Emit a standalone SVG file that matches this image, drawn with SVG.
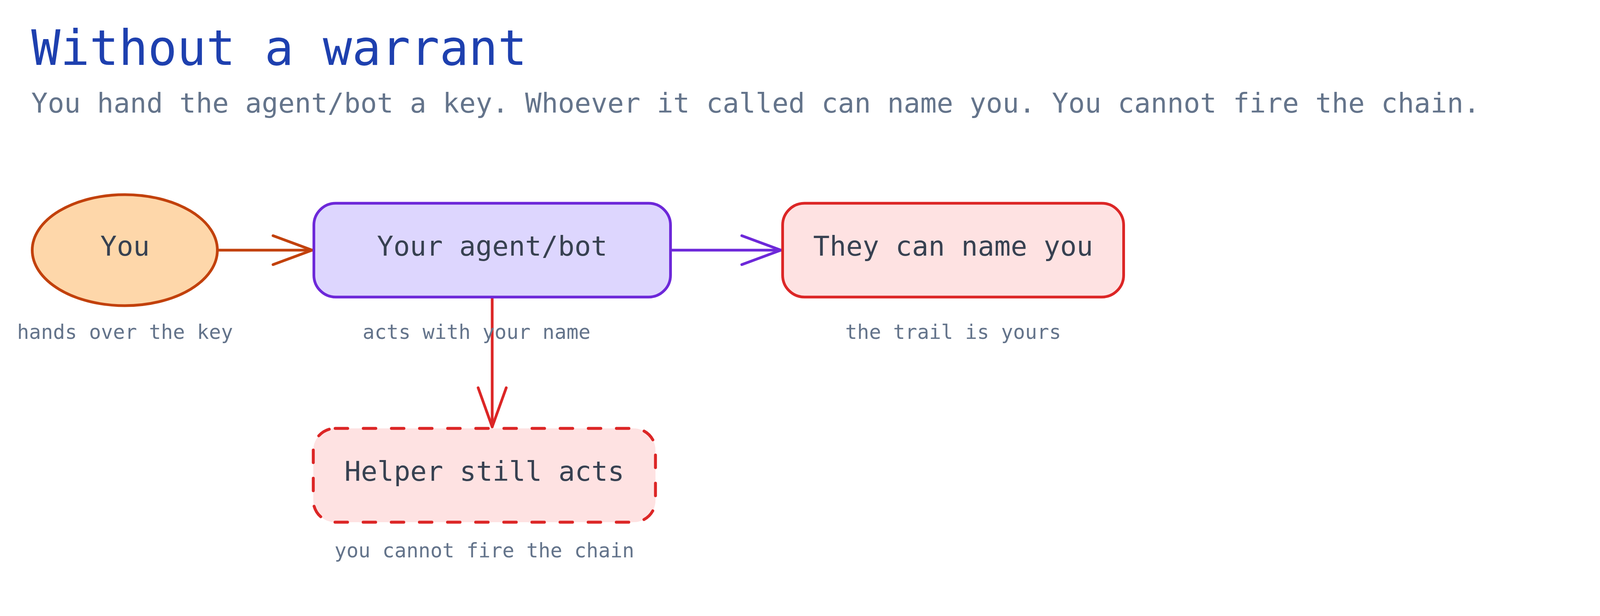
<svg xmlns="http://www.w3.org/2000/svg" width="4840" height="1576" viewBox="0 0 4840 1576">
<style>
text{font-family:"DejaVu Sans Mono","Liberation Mono",monospace;}
.title{font-size:124px;fill:#1e40af;}
.sub{font-size:70px;fill:#64748b;}
.lbl{font-size:70px;fill:#374151;text-anchor:middle;}
.cap{font-size:51px;fill:#64748b;text-anchor:middle;}
.edge{fill:none;stroke-width:7;stroke-linecap:round;}
</style>
<defs>
<marker id="ah-orange" markerUnits="userSpaceOnUse" viewBox="-106 -44 112 88" refX="0" refY="0" markerWidth="112" markerHeight="88" orient="auto" overflow="visible">
<path d="M-100,-37 L0,0 L-100,37" fill="none" stroke="#c2410c" stroke-width="7" stroke-linecap="round" stroke-linejoin="round"/>
</marker>
<marker id="ah-purple" markerUnits="userSpaceOnUse" viewBox="-106 -44 112 88" refX="0" refY="0" markerWidth="112" markerHeight="88" orient="auto" overflow="visible">
<path d="M-100,-37 L0,0 L-100,37" fill="none" stroke="#6d28d9" stroke-width="7" stroke-linecap="round" stroke-linejoin="round"/>
</marker>
<marker id="ah-red" markerUnits="userSpaceOnUse" viewBox="-106 -44 112 88" refX="0" refY="0" markerWidth="112" markerHeight="88" orient="auto" overflow="visible">
<path d="M-100,-36 L0,0 L-100,36" fill="none" stroke="#dc2626" stroke-width="7" stroke-linecap="round" stroke-linejoin="round"/>
</marker>
</defs>
<rect width="4840" height="1576" fill="#ffffff"/>
<g id="header">
<text class="title" x="80" y="166">Without a warrant</text>
<text class="sub" x="80" y="288">You hand the agent/bot a key. Whoever it called can name you. You cannot fire the chain.</text>
</g>
<g id="connectors">
<path class="edge" d="M560,640 L799,640" stroke="#c2410c" marker-end="url(#ah-orange)"/>
<path class="edge" d="M1720,640 L1999,640" stroke="#6d28d9" marker-end="url(#ah-purple)"/>
<path class="edge" d="M1260,764 L1260,1092" stroke="#dc2626" marker-end="url(#ah-red)"/>
</g>
<g id="you">
<ellipse cx="319.5" cy="640" rx="237" ry="142" fill="#fed7aa" stroke="#c2410c" stroke-width="7"/>
<text class="lbl" x="320" y="654">You</text>
<text class="cap" x="320" y="867">hands over the key</text>
</g>
<g id="agent">
<rect x="803.5" y="520" width="913" height="240" rx="56" ry="56" fill="#ddd6fe" stroke="#6d28d9" stroke-width="7"/>
<text class="lbl" x="1260" y="654">Your agent/bot</text>
<text class="cap" x="1220" y="867">acts with your name</text>
</g>
<g id="named">
<rect x="2003.5" y="520" width="873" height="240" rx="56" ry="56" fill="#fee2e2" stroke="#dc2626" stroke-width="7"/>
<text class="lbl" x="2440" y="654">They can name you</text>
<text class="cap" x="2440" y="867">the trail is yours</text>
</g>
<g id="helper">
<rect x="802" y="1096" width="876" height="240" rx="56" ry="56" fill="#fee2e2" stroke="#dc2626" stroke-width="7.5" stroke-dasharray="32 40" stroke-linecap="round"/>
<text class="lbl" x="1240" y="1230">Helper still acts</text>
<text class="cap" x="1240" y="1426">you cannot fire the chain</text>
</g>
</svg>
